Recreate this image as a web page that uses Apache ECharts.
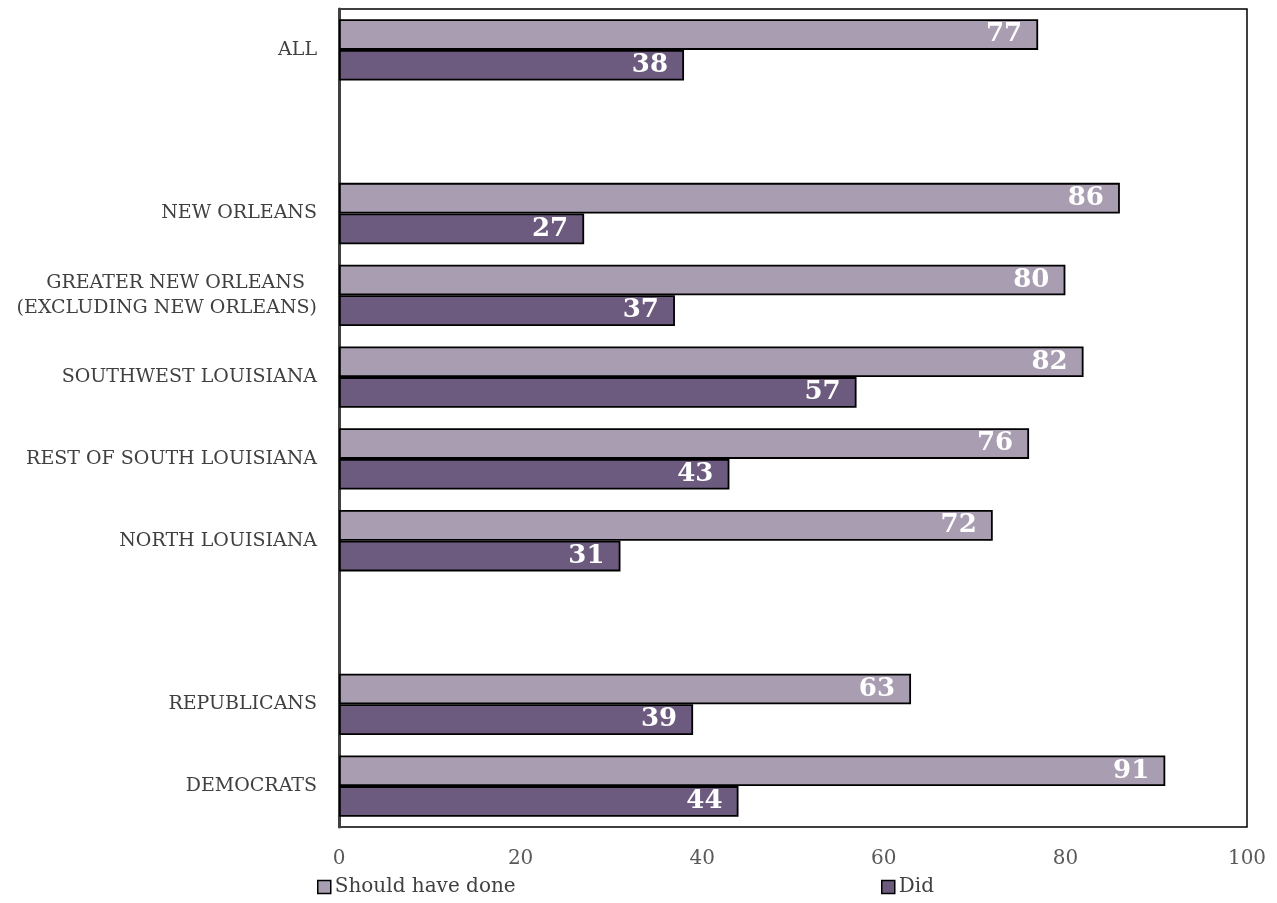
<!DOCTYPE html>
<html>
<head>
<meta charset="utf-8">
<script src="https://cdn.jsdelivr.net/npm/echarts@6/dist/echarts.min.js"></script>
<style>
  html, body { margin: 0; padding: 0; background: #fff; }
  #chart { width: 1277px; height: 903px; }
</style>
</head>
<body>
<div id="chart"></div>
<script>
// Regions and parties; empty strings leave spacer rows between the groups
const categories = [
  'ALL',
  '',
  'NEW ORLEANS',
  'GREATER NEW ORLEANS  \n(EXCLUDING NEW ORLEANS)',
  'SOUTHWEST LOUISIANA',
  'REST OF SOUTH LOUISIANA',
  'NORTH LOUISIANA',
  '',
  'REPUBLICANS',
  'DEMOCRATS'
];
const shouldHaveDone = [77, null, 86, 80, 82, 76, 72, null, 63, 91];
const did = [38, null, 27, 37, 57, 43, 31, null, 39, 44];
const xTicks = [0, 20, 40, 60, 80, 100];

const FONT = '"DejaVu Serif", "Liberation Serif", serif';
const LIGHT = '#a89db1';
const DARK = '#6c5b7e';

const valueLabel = {
  show: true,
  position: 'insideRight',
  distance: 16,
  color: '#fff',
  fontFamily: FONT,
  fontWeight: 'bold',
  fontSize: 26
};

const legendText = { fontFamily: FONT, fontSize: 20, color: '#404040', padding: [0, 0, 0, -1] };

const chart = echarts.init(document.getElementById('chart'), null, { renderer: 'canvas' });
chart.setOption({
  animation: false,
  backgroundColor: '#fff',
  textStyle: { fontFamily: FONT },
  grid: {
    left: 339, right: 30, top: 9, bottom: 76,
    show: true, borderColor: '#000', borderWidth: 1.5, backgroundColor: 'transparent'
  },
  legend: [
    {
      data: ['Should have done'], left: 312, top: 872, icon: 'rect',
      itemWidth: 13, itemHeight: 13, itemGap: 4,
      itemStyle: { borderColor: '#000', borderWidth: 1.5 },
      textStyle: legendText
    },
    {
      data: ['Did'], left: 876, top: 872, icon: 'rect',
      itemWidth: 13, itemHeight: 13, itemGap: 4,
      itemStyle: { borderColor: '#000', borderWidth: 1.5 },
      textStyle: legendText
    }
  ],
  xAxis: {
    type: 'value', min: 0, max: 100, interval: 20,
    axisLine: { show: false },
    axisTick: { show: false },
    splitLine: { show: false },
    axisLabel: {
      fontFamily: FONT, fontSize: 20, color: '#595959', margin: 22,
      formatter: v => (xTicks.includes(v) ? String(v) : '')
    }
  },
  yAxis: {
    type: 'category', data: categories, inverse: true,
    axisLine: { show: true, lineStyle: { color: '#404040', width: 3 } },
    axisTick: { show: false },
    axisLabel: {
      fontFamily: FONT, fontSize: 19, color: '#404040', margin: 22,
      lineHeight: 25, align: 'right'
    }
  },
  series: [
    {
      name: 'Should have done', type: 'bar', data: shouldHaveDone,
      barGap: '0%', barCategoryGap: '25%',
      itemStyle: { color: LIGHT, borderColor: '#000', borderWidth: 1.8 },
      label: valueLabel
    },
    {
      name: 'Did', type: 'bar', data: did,
      barGap: '0%', barCategoryGap: '25%',
      itemStyle: { color: DARK, borderColor: '#000', borderWidth: 1.8 },
      label: valueLabel
    }
  ]
});
</script>
</body>
</html>
